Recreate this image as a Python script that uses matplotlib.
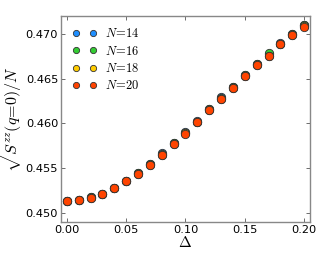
import matplotlib
matplotlib.use("Agg")
import matplotlib.pyplot as plt

plt.rcParams["mathtext.fontset"] = "cm"
plt.rcParams["font.family"] = "DejaVu Sans"

# =========================
# Dados
# =========================
delta = [0.00, 0.01, 0.02, 0.03, 0.04, 0.05, 0.06, 0.07, 0.08, 0.09, 0.10,
         0.11, 0.12, 0.13, 0.14, 0.15, 0.16, 0.17, 0.18, 0.19, 0.20]

s_n14 = [0.45140, 0.45148, 0.45175, 0.45218, 0.45282, 0.45362, 0.45450, 0.45550,
         0.45665, 0.45780, 0.45900, 0.46025, 0.46165, 0.46294, 0.46410, 0.46540,
         0.46665, 0.46780, 0.46893, 0.46995, 0.47100]
s_n16 = [0.45139, 0.45147, 0.45174, 0.45216, 0.45280, 0.45360, 0.45447, 0.45545,
         0.45660, 0.45778, 0.45898, 0.46022, 0.46167, 0.46285, 0.46408, 0.46538,
         0.46668, 0.46784, 0.46892, 0.46995, 0.47104]
s_n18 = [0.45138, 0.45146, 0.45172, 0.45213, 0.45277, 0.45355, 0.45441, 0.45538,
         0.45650, 0.45770, 0.45890, 0.46012, 0.46150, 0.46275, 0.46400, 0.46534,
         0.46655, 0.46750, 0.46887, 0.46990, 0.47085]
s_n20 = [0.45138, 0.45145, 0.45171, 0.45212, 0.45275, 0.45353, 0.45439, 0.45535,
         0.45647, 0.45766, 0.45888, 0.46015, 0.46145, 0.46271, 0.46394, 0.46532,
         0.46651, 0.46755, 0.46885, 0.46989, 0.47082]

series = [
    ("$N\\!=\\!14$", s_n14, "#1f8fff"),
    ("$N\\!=\\!16$", s_n16, "#33cc33"),
    ("$N\\!=\\!18$", s_n18, "#ffcc00"),
    ("$N\\!=\\!20$", s_n20, "#ff4400"),
]

# =========================
# Plot
# =========================
fig = plt.figure(figsize=(3.33, 2.54), dpi=100)
ax = fig.add_axes([0.183, 0.126, 0.748, 0.811])

for label, vals, color in series:
    ax.plot(delta, vals, "o", color=color, markersize=6,
            markeredgecolor="#333333", markeredgewidth=0.6, label=label)

ax.set_xlim(-0.005, 0.205)
ax.set_ylim(0.449, 0.472)
ax.set_xticks([0.00, 0.05, 0.10, 0.15, 0.20])
ax.set_yticks([0.450, 0.455, 0.460, 0.465, 0.470])
ax.set_xticklabels(["0.00", "0.05", "0.10", "0.15", "0.20"])
ax.set_yticklabels(["0.450", "0.455", "0.460", "0.465", "0.470"])

ax.tick_params(direction="in", top=True, right=True, labelsize=8.2,
               length=3, width=0.6, color="#555555", pad=2)
for sp in ax.spines.values():
    sp.set_color("#888888")
    sp.set_linewidth(1.0)

ax.set_xlabel("$\\Delta$", fontsize=11, labelpad=0)
ax.set_ylabel("$\\sqrt{S^{zz}(q\\!=\\!0)/N}$", fontsize=11.5)
ax.yaxis.set_label_coords(-0.145, 0.5)

leg = ax.legend(loc="upper left", numpoints=2, frameon=False, fontsize=9,
                handlelength=2.0, handletextpad=0.6, labelspacing=0.35,
                borderaxespad=0.5, markerscale=0.75)

fig.savefig("out.png", dpi=100)
